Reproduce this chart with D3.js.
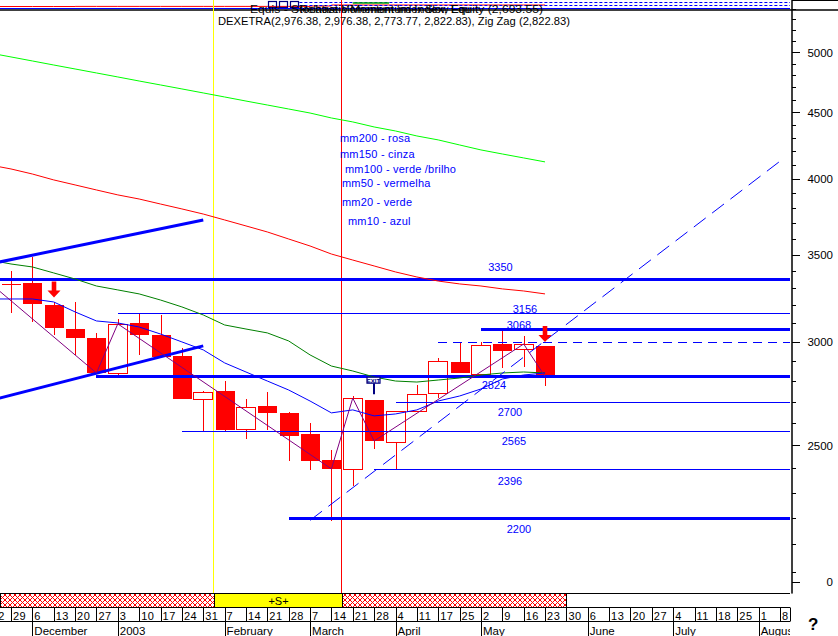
<!DOCTYPE html>
<html><head><meta charset="utf-8">
<script src="https://cdn.jsdelivr.net/npm/d3@7/dist/d3.min.js"></script>
<style>
html,body{margin:0;padding:0;background:#fff;overflow:hidden}
svg{display:block}
text{font-family:"Liberation Sans",Arial,sans-serif}
</style>
</head><body>
<svg id="chart" width="838" height="636"></svg>
<script>
// ================= DATA =================
const weekLabels = ["22","29","6","13","20","27","3","10","17","24","31","7","14","21","28","7","14","21","28","4","11","17","25","2","9","16","23","30","6","13","20","27","4","11","18","25","1","8"];
const monthNames = ["December","2003","February","March","April","May","June","July","August"];
const monthStart = [2,6,11,15,19,23,28,32,36];

// weekly candles (week index: 1 = 29 Nov 2002 ... 26 = 23 May 2003)
const candleIdx = [1,2,3,4,5,6,7,8,9,10,11,12,13,14,15,16,17,18,19,20,21,22,23,24,25,26];
const opens  = [3328,3328,3202,3070,3021,2840,3102,3037,2927,2713,2751,2573,2680,2647,2551,2436,2398,2708,2515,2656,2742,2896,2835,2989,2963,2976.38];
const highs  = [3400,3485,3219,3219,3048,3124,3157,3146,2968,2751,2800,2713,2747,2651,2600,2479,2727,2708,2656,2781,2916,3000,3000,3064,3032,2976.38];
const lows   = [3157,3107,3037,2932,2835,2830,2932,2921,2713,2560,2560,2528,2568,2432,2394,2188,2327,2484,2394,2656,2717,2840,2835,2865,2870,2773.77];
const closes = [3328,3207,3075,3021,2840,3097,3037,2921,2713,2747,2568,2675,2647,2542,2432,2398,2717,2519,2656,2737,2901,2840,2984,2952,2989,2822.83];

// moving averages, week index 0..26
const mm10  = [3236,3236,3236,3219,3163,3113,3102,3080,3042,3000,2958,2891,2845,2800,2756,2703,2647,2661,2633,2642,2661,2703,2727,2761,2810,2830,2840];
const mm20  = [3466,3442,3424,3388,3352,3311,3288,3265,3230,3191,3146,3091,3069,3048,3005,2932,2875,2850,2820,2800,2795,2805,2815,2830,2840,2845,2840];
const mm50  = [4099,4070,4034,3992,3957,3922,3888,3860,3826,3793,3759,3720,3681,3642,3597,3553,3503,3466,3430,3394,3364,3340,3323,3311,3294,3282,3265];
const mm100 = [4994,4959,4924,4889,4855,4821,4787,4753,4720,4687,4654,4621,4588,4556,4524,4492,4453,4422,4383,4352,4314,4284,4246,4209,4179,4150,4121];

// zig zag pivots
const zigIdx = [0,5,6,16,17,18,25,26];
const zigVal = [3330,2840,3097,2398,2717,2519,2989,2822.83];

// support / resistance levels
const levelValues = [3350,3156,3068,3000,2824,2700,2565,2396,2200];
const levelFrom   = [0,6,23,21,5,19,9,18,14];
const levelLabels = ["3350","3156","3068","","2824","2700","2565","2396","2200"];

// trend lines [index, value]
const trendUpper = [[0,3442],[10,3720]];
const trendLower = [[0,2705],[10,2979]];
const trendRise  = [[15,2190],[37.2,4150]];

// signals
const arrowIdx = [3,26];
const exitIdx = 18, exitVal = 2824;
const bandEdges = [0.5,10.5,16.5,27];
const bandKinds = ["hatch","S","hatch"];

// y axis ticks
const majorTicks  = [1965,2500,3000,3500,4000,4500,5000];
const majorLabels = ["0","2500","3000","3500","4000","4500","5000"];
const minorTicks  = [2000,2100,2200,2300,2400,2600,2700,2800,2900,3100,3200,3300,3400,3600,3700,3800,3900,4100,4200,4300,4400,4600,4700,4800,4900,5100,5200,5300,5400];

// small top panel (equity) values
const miniEq = [35,35,35,35,36,36,36,36,36,36,36,36,36,36,36,40,50,50,50,50,50,50,50,50,50,50,50];
const miniLevels = [75,45];

const legendLines = ["mm200 - rosa","mm150 - cinza","mm100 -  verde /brilho","mm50 - vermelha","mm20 - verde","mm10 - azul"];

// ================= DRAW =================
const svg = d3.select("#chart");
const plotR = 790, plotT = 10, plotB = 593, axisX = 791.5;

const x = d3.scaleLinear().domain([0,37]).range([-10.36,780]);
const y = d3.scaleLog().domain([1926.6,5483]).range([593,0]);
const yMini = d3.scaleLinear().domain([0,100]).range([10,0]);

const defs = svg.append("defs");
defs.append("clipPath").attr("id","plotClip").append("rect")
  .attr("x",0).attr("y",plotT+1).attr("width",plotR).attr("height",plotB-plotT-1);
defs.append("clipPath").attr("id","miniClip").append("rect")
  .attr("x",0).attr("y",0).attr("width",plotR).attr("height",9);
defs.append("clipPath").attr("id","botClip").append("rect")
  .attr("x",0).attr("y",plotB).attr("width",plotR).attr("height",60);
const pat = defs.append("pattern").attr("id","hatch").attr("patternUnits","userSpaceOnUse")
  .attr("width",5).attr("height",5);
pat.append("rect").attr("width",5).attr("height",5).attr("fill","#fff");
pat.append("path").attr("d","M0,0L5,5M5,0L0,5").attr("stroke","#ff0000").attr("stroke-width",1);

svg.append("rect").attr("width",838).attr("height",636).attr("fill","#fff");

// ---- top mini panel ----
const mini = svg.append("g").attr("clip-path","url(#miniClip)");
mini.append("path").datum(miniEq)
  .attr("d", d3.line().x((d,i)=>x(i)).y(d=>yMini(d)).curve(d3.curveStepAfter))
  .attr("fill","none").attr("stroke","#ff0000").attr("stroke-width",1);
mini.selectAll(".ml").data(miniLevels).join("line")
  .attr("x1",x(14.5)).attr("x2",plotR).attr("y1",d=>yMini(d)).attr("y2",d=>yMini(d))
  .attr("stroke","#0000ff").attr("stroke-width",1).attr("stroke-dasharray","3,2");
mini.append("line").attr("x1",x(17)).attr("x2",x(18.7)).attr("y1",yMini(70)).attr("y2",yMini(70))
  .attr("stroke","#00a000").attr("stroke-width",1.5);
[268,279,290].forEach(px=>{
  mini.append("rect").attr("x",px+0.5).attr("y",1.5).attr("width",8).attr("height",6)
    .attr("fill","none").attr("stroke","#000080").attr("stroke-width",1.2);
});
svg.append("line").attr("x1",0).attr("x2",plotR).attr("y1",8.5).attr("y2",8.5).attr("stroke","#0000ff").attr("stroke-width",1);
svg.append("line").attr("x1",0).attr("x2",838).attr("y1",10).attr("y2",10).attr("stroke","#000").attr("stroke-width",1.5);
svg.append("line").attr("x1",axisX).attr("x2",838).attr("y1",0.5).attr("y2",0.5).attr("stroke","#000").attr("stroke-width",1);

// ---- vertical signal lines ----
svg.append("line").attr("x1",Math.round(x(10.5))-0.5).attr("x2",Math.round(x(10.5))-0.5).attr("y1",0).attr("y2",plotB)
  .attr("stroke","#ffff00").attr("stroke-width",1);
svg.append("line").attr("x1",Math.round(x(16.5))-0.5).attr("x2",Math.round(x(16.5))-0.5).attr("y1",0).attr("y2",plotB)
  .attr("stroke","#ff0000").attr("stroke-width",1);

// ---- titles ----
svg.append("text").attr("x",250).attr("y",13).attr("font-size",11).attr("textLength",293).attr("lengthAdjust","spacingAndGlyphs")
  .text("Equis - Stochastic Momentum Index, Equity (2,693.55)");
svg.append("text").attr("x",300).attr("y",13).attr("font-size",11).attr("textLength",170).attr("lengthAdjust","spacingAndGlyphs")
  .text("Relative Momentum Index Slow Equ");
svg.append("text").attr("x",218).attr("y",24.5).attr("font-size",11).attr("textLength",352).attr("lengthAdjust","spacingAndGlyphs")
  .text("DEXETRA(2,976.38, 2,976.38, 2,773.77, 2,822.83), Zig Zag (2,822.83)");

// ---- plot ----
const g = svg.append("g").attr("clip-path","url(#plotClip)");

// candles
const candles = candleIdx.map((idx,k)=>({i:idx,o:opens[k],h:highs[k],l:lows[k],c:closes[k]}));
const cx = d=>Math.round(x(d.i));
g.selectAll(".wick").data(candles).join("line")
  .attr("x1",d=>cx(d)+0.5).attr("x2",d=>cx(d)+0.5)
  .attr("y1",d=>y(d.h)).attr("y2",d=>y(d.l))
  .attr("stroke","#ff0000").attr("stroke-width",1).attr("shape-rendering","crispEdges");
g.selectAll(".body").data(candles).join("rect")
  .attr("x",d=>d.c<d.o ? cx(d)-9 : cx(d)-9.5)
  .attr("width",d=>d.c<d.o ? 19 : 19)
  .attr("y",d=>{const t=Math.round(y(Math.max(d.o,d.c))); return d.c<d.o ? t : t+0.5;})
  .attr("height",d=>Math.max(1,Math.round(y(Math.min(d.o,d.c)))-Math.round(y(Math.max(d.o,d.c)))))
  .attr("fill",d=>d.c<d.o ? "#ff0000" : (d.c===d.o ? "#ff0000" : "#ffffff"))
  .attr("stroke",d=>d.c>d.o ? "#ff0000" : "none").attr("stroke-width",1)
  .attr("shape-rendering","crispEdges");

// levels
const thick = new Set([3350,3068,2824,2200]);
const levels = levelValues.map((v,k)=>({v,from:levelFrom[k],label:levelLabels[k]}));
g.selectAll(".lvl").data(levels).join("line")
  .attr("x1",d=>x(d.from)).attr("x2",plotR)
  .attr("y1",d=>Math.round(y(d.v))+(thick.has(d.v)?0:0.5)).attr("y2",d=>Math.round(y(d.v))+(thick.has(d.v)?0:0.5))
  .attr("stroke","#0000ff").attr("stroke-width",d=>thick.has(d.v)?3:1)
  .attr("stroke-dasharray",d=>d.v===3000?"9,6":null)
  .attr("shape-rendering","crispEdges");

// moving averages
const maLine = d3.line().x((d,i)=>x(i)).y(d=>y(d));
[[mm100,"#00ff00"],[mm50,"#ff0000"],[mm20,"#008000"],[mm10,"#0000ff"]].forEach(([arr,col])=>{
  g.append("path").datum(arr).attr("d",maLine).attr("fill","none").attr("stroke",col).attr("stroke-width",1);
});

// trend lines
const tl = d3.line().x(d=>x(d[0])).y(d=>y(d[1]));
g.append("path").datum(trendUpper).attr("d",tl).attr("stroke","#0000ff").attr("stroke-width",3).attr("fill","none");
g.append("path").datum(trendLower).attr("d",tl).attr("stroke","#0000ff").attr("stroke-width",3).attr("fill","none");
g.append("path").datum(trendRise).attr("d",tl).attr("stroke","#0000ff").attr("stroke-width",1).attr("fill","none").attr("stroke-dasharray","15,8");

// zig zag
g.append("path").datum(zigIdx.map((d,k)=>[d,zigVal[k]])).attr("d",tl)
  .attr("fill","none").attr("stroke","#800080").attr("stroke-width",1);

// arrows
arrowIdx.forEach(idx=>{
  const k = candleIdx.indexOf(idx);
  const px = Math.round(x(idx)), tip = y(highs[k]) - 4.5;
  g.append("path")
    .attr("d",`M${px-2.3},${tip-16}H${px+2.3}V${tip-7}H${px+6.5}L${px},${tip}L${px-6.5},${tip-7}H${px-2.3}Z`)
    .attr("fill","#ff0000");
});

// EXIT marker
{
  const px = Math.round(x(exitIdx))-0.5, py = y(exitVal)+1;
  g.append("line").attr("x1",px+0.5).attr("x2",px+0.5).attr("y1",py+6).attr("y2",py+17)
    .attr("stroke","#000080").attr("stroke-width",2);
  g.append("rect").attr("x",px-6.5).attr("y",py).attr("width",13).attr("height",6)
    .attr("fill","#fff").attr("stroke","#000080").attr("stroke-width",1.2);
  g.append("text").attr("x",px).attr("y",py+5.5).attr("font-size",6).attr("font-weight","bold")
    .attr("text-anchor","middle").attr("fill","#000080").text("EXIT");
}

// level labels
const labelPos = {3350:[500.5,-12],3156:[525,-4.5],3068:[519,-4],2824:[494,8.5],2700:[510,10],2565:[514,10],2396:[510,11.5],2200:[519,11]};
g.selectAll(".lvlLab").data(levels.filter(d=>d.label)).join("text")
  .attr("x",d=>labelPos[d.v][0]).attr("y",d=>y(d.v)+labelPos[d.v][1]+4)
  .attr("text-anchor","middle").attr("font-size",11).attr("fill","#0000ff").text(d=>d.label);

// legend
const legendX = [340,340,345,342,342,348], legendY = [142,158,173,187,206,225];
g.selectAll(".leg").data(legendLines).join("text")
  .attr("x",(d,i)=>legendX[i]).attr("y",(d,i)=>legendY[i]).attr("font-size",11).attr("fill","#0000ff")
  .attr("letter-spacing",0.2).text(d=>d);

// ---- y axis ----
const axG = svg.append("g").attr("transform",`translate(${axisX},0)`);
axG.call(d3.axisRight(y).tickValues(minorTicks).tickSize(4).tickSizeOuter(0).tickFormat(""));
const axM = svg.append("g").attr("transform",`translate(${axisX},0)`);
axM.call(d3.axisRight(y).tickValues(majorTicks).tickSize(8).tickSizeOuter(0).tickFormat((d,i)=>majorLabels[i]));
axM.selectAll("text").attr("x",41.5).attr("text-anchor","end").attr("font-size",11.5).attr("dy","0.35em")
  .style("font-family",'"Liberation Sans",Arial,sans-serif').attr("fill","#000");
svg.selectAll(".domain").attr("stroke","#000");
svg.selectAll(".tick line").attr("stroke","#000").attr("shape-rendering","crispEdges");

// ---- bottom rows ----
const bot = svg.append("g").attr("clip-path","url(#botClip)");
for (let k=0;k<bandKinds.length;k++){
  const x0 = Math.max(0.5,Math.round(x(bandEdges[k]))+0.5), x1 = Math.round(x(bandEdges[k+1]))+0.5;
  bot.append("rect").attr("x",x0).attr("y",plotB+0.5).attr("width",x1-x0).attr("height",13.5)
    .attr("fill",bandKinds[k]==="S"?"#ffff00":"url(#hatch)").attr("stroke","#000").attr("stroke-width",1)
    .attr("shape-rendering","crispEdges");
  if (bandKinds[k]==="S") bot.append("text").attr("x",(x0+x1)/2).attr("y",plotB+11.5).attr("text-anchor","middle")
    .attr("font-size",11).text("+S+");
}
[plotB+0.5,607.5,621.5].forEach(yy=>{
  svg.append("line").attr("x1",0).attr("x2",plotR).attr("y1",yy).attr("y2",yy).attr("stroke","#000").attr("shape-rendering","crispEdges");
});
bot.selectAll(".dtick").data(weekLabels).join("line")
  .attr("x1",(d,i)=>Math.round(x(i))+0.5).attr("x2",(d,i)=>Math.round(x(i))+0.5)
  .attr("y1",607.5).attr("y2",621.5).attr("stroke","#000").attr("shape-rendering","crispEdges");
bot.selectAll(".dlab").data(weekLabels).join("text")
  .attr("x",(d,i)=>x(i)+2).attr("y",619.5).attr("font-size",11).attr("letter-spacing",0.5).text(d=>d);
bot.selectAll(".mtick").data(monthStart).join("line")
  .attr("x1",d=>Math.round(x(d))+0.5).attr("x2",d=>Math.round(x(d))+0.5)
  .attr("y1",621.5).attr("y2",636).attr("stroke","#000").attr("shape-rendering","crispEdges");
bot.selectAll(".mlab").data(monthNames).join("text")
  .attr("x",(d,i)=>x(monthStart[i])+2).attr("y",634.5).attr("font-size",11.5).text(d=>d);
svg.append("line").attr("x1",plotR+0.5).attr("x2",plotR+0.5).attr("y1",607.5).attr("y2",621.5).attr("stroke","#000");

svg.append("text").attr("x",808).attr("y",630).attr("font-size",17).attr("font-weight","bold").text("?");
</script>
</body></html>
